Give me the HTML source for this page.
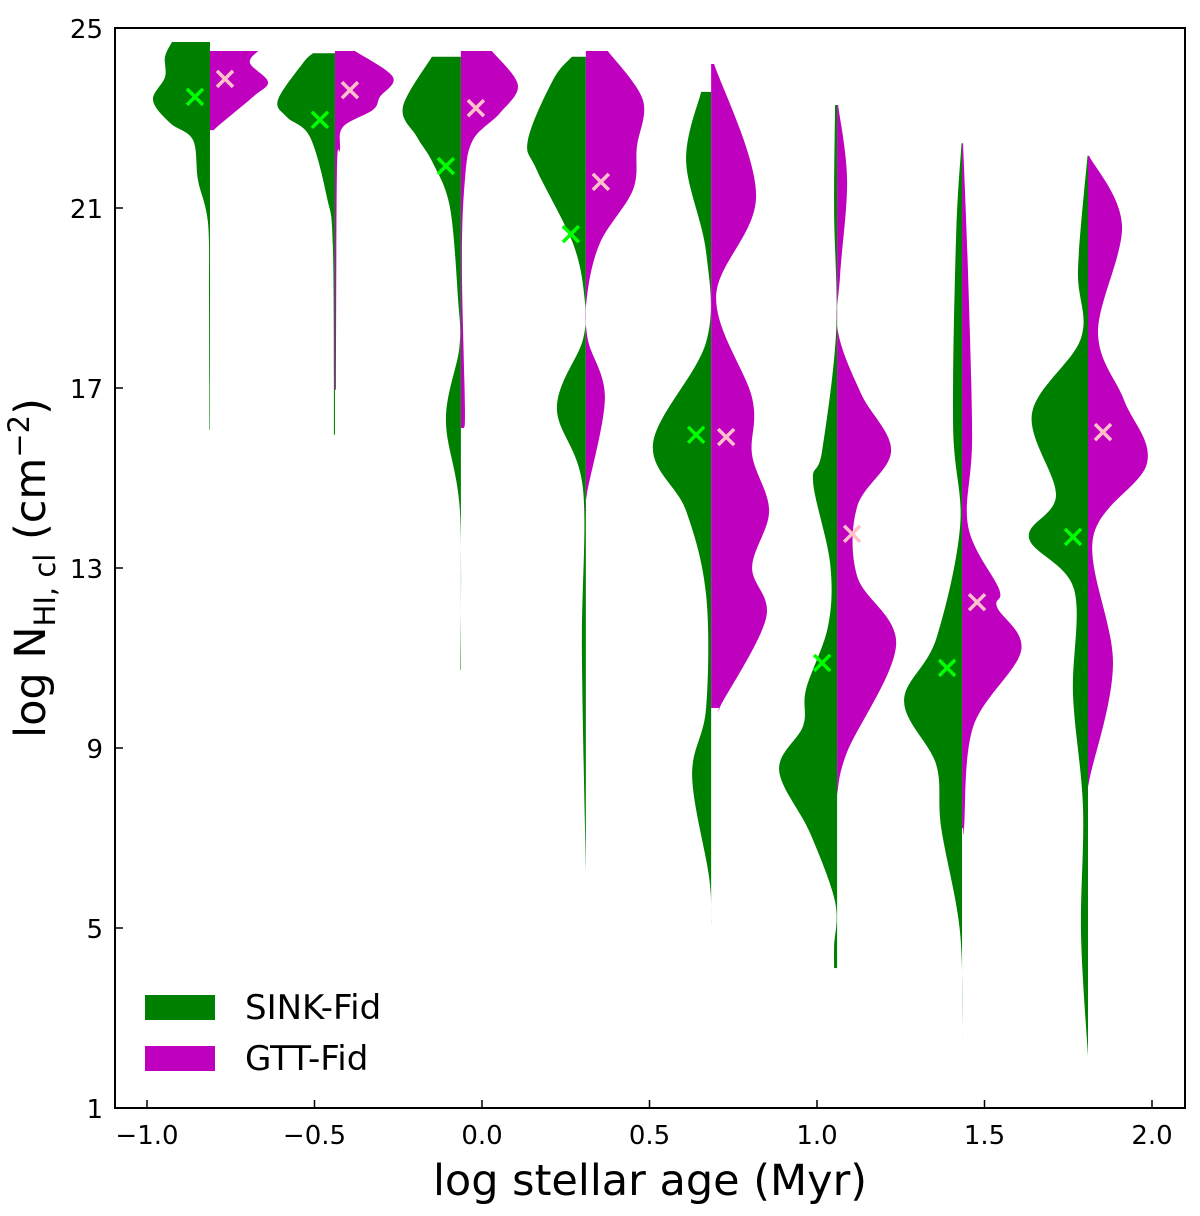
<!DOCTYPE html>
<html><head><meta charset="utf-8"><style>
html,body{margin:0;padding:0;background:#fff}
svg{display:block}
text{font-family:"DejaVu Sans","Liberation Sans",sans-serif;fill:#000}
</style></head><body>
<svg id="chart" width="1200" height="1216" viewBox="0 0 1200 1216">
<g id="marks"></g>
<g id="axes"></g>
</svg>
<script>
const ages = [-0.812, -0.439, -0.063, 0.310, 0.684, 1.060, 1.433, 1.809];
const sinkProfiles = [
 [[24.69,38],[24.36,45],[23.91,45],[23.40,57],[22.89,40],[22.51,17],[21.62,12],[20.67,2],[18.96,1],[16.07,0.5]],
 [[24.44,22],[24.22,32],[23.40,57],[23.02,48],[22.58,25],[21.24,8],[20.13,2],[15.96,1]],
 [[24.36,29],[23.24,58],[22.58,44],[22.00,28],[21.02,11],[19.02,3],[17.91,1.5],[16.29,15],[14.27,1],[10.73,0.5]],
 [[24.36,14],[23.84,33],[22.51,58],[21.84,49],[20.22,13],[19.02,1.5],[18.07,3],[16.56,29],[14.78,3],[11.13,4],[6.24,0]],
 [[23.58,10],[22.04,25],[20.02,5],[18.02,5],[15.78,58],[14.27,25],[12.40,5],[9.89,5],[8.38,19],[6.13,2],[5.07,0]],
 [[23.29,2],[20.91,3],[18.24,1],[15.60,15],[14.91,24],[13.11,7],[11.71,9],[10.31,31],[9.49,34],[8.51,58],[7.11,27],[5.58,2],[4.60,3],[4.11,3]],
 [[22.44,0.5],[20.36,6],[16.16,9],[13.93,2],[11.42,26],[10.04,58],[8.64,26],[7.24,21],[4.89,2],[2.40,0]],
 [[22.16,0.5],[19.64,10],[18.11,7],[16.44,56],[14.62,32],[13.67,59],[12.53,14],[10.18,15],[7.67,5],[4.89,7],[2.16,0]]
];
const gttProfiles = [
 [[24.49,48],[24.22,40],[23.80,58],[23.47,43],[22.80,7],[22.73,5]],
 [[24.49,20],[23.91,58],[23.47,45],[23.18,38],[22.80,8],[22.29,5],[21.78,2],[16.96,1]],
 [[24.49,31],[23.73,57],[23.11,39],[22.51,12],[21.62,4],[19.78,1],[16.58,4],[16.11,3]],
 [[24.49,22],[23.40,57],[22.36,51],[21.40,47],[20.22,14],[19.02,1],[18.07,2],[16.78,19],[14.64,1],[14.27,0.5]],
 [[24.20,3],[21.29,45],[19.02,5],[16.78,41],[15.51,41],[14.27,58],[13.02,41],[11.89,55],[9.96,10],[9.89,9]],
 [[23.29,1],[21.60,10],[19.51,3],[18.24,1],[16.87,24],[15.60,54],[14.36,20],[12.82,20],[11.29,59],[8.91,10],[7.96,0]],
 [[22.44,1],[19.51,6],[15.89,10],[13.93,6],[12.53,37],[12.13,35],[11.16,59],[9.47,11],[7.24,2],[7.22,1]],
 [[22.16,1],[20.62,34],[18.24,10],[16.73,36],[15.33,59],[13.67,5],[10.87,25],[8.36,2],[8.07,0]]
];
const sinkMeans = [23.47, 22.96, 21.93, 20.42, 15.96, 10.89, 10.78, 13.69];
const gttMeans  = [23.87, 23.62, 23.22, 21.58, 15.91, 13.76, 12.24, 16.02];
const xTicks = [-1.0, -0.5, 0.0, 0.5, 1.0, 1.5, 2.0];
const xTickLabels = ["\u22121.0", "\u22120.5", "0.0", "0.5", "1.0", "1.5", "2.0"];
const yTicks = [1, 5, 9, 13, 17, 21, 25];
const yTickLabels = ["1", "5", "9", "13", "17", "21", "25"];

const NS = "http://www.w3.org/2000/svg";
const L = 115, R = 1185, T = 28, B = 1108;
const xs = v => 147 + (v + 1) * 335;
const ys = v => T + (25 - v) * 45;
const marks = document.getElementById('marks');
const axes = document.getElementById('axes');
function mk(tag, attrs, parent) {
  const e = document.createElementNS(NS, tag);
  for (const k in attrs) e.setAttribute(k, attrs[k]);
  parent.appendChild(e);
  return e;
}
function smooth(pts) {
  let d = "";
  for (let i = 0; i < pts.length - 1; i++) {
    const p0 = pts[Math.max(0, i - 1)], p1 = pts[i], p2 = pts[i + 1], p3 = pts[Math.min(pts.length - 1, i + 2)];
    const c1 = [p1[0] + (p2[0] - p0[0]) / 6, p1[1] + (p2[1] - p0[1]) / 6];
    const c2 = [p2[0] - (p3[0] - p1[0]) / 6, p2[1] - (p3[1] - p1[1]) / 6];
    d += ` C${c1[0].toFixed(1)},${c1[1].toFixed(1)} ${c2[0].toFixed(1)},${c2[1].toFixed(1)} ${p2[0].toFixed(1)},${p2[1].toFixed(1)}`;
  }
  return d;
}
function half(cx, prof, sign, color, name) {
  const pts = prof.map(p => [cx + sign * p[1], ys(p[0])]);
  const top = ys(prof[0][0]), bot = ys(prof[prof.length - 1][0]);
  let d = `M${cx},${top} L${pts[0][0]},${pts[0][1]}` + smooth(pts) + ` L${cx},${bot} Z`;
  const p = mk('path', {d: d, fill: color, stroke: 'none'}, marks);
  
  
}
function cross(x, y, color, name) {
  const g = mk('g', {stroke: color, 'stroke-width': 3.5}, marks);
  
  
  const s = 8;
  mk('line', {x1: x - s, y1: y - s, x2: x + s, y2: y + s}, g);
  mk('line', {x1: x - s, y1: y + s, x2: x + s, y2: y - s}, g);
}
ages.forEach((a, i) => {
  const cx = xs(a);
  half(cx, sinkProfiles[i], -1, '#008000', 'sink-violin-' + i);
  half(cx, gttProfiles[i], 1, '#bf00bf', 'gtt-violin-' + i);
});
ages.forEach((a, i) => {
  const cx = xs(a);
  cross(cx - 15, ys(sinkMeans[i]), '#00ff00', 'sink-mean-marker-' + i);
  cross(cx + 15, ys(gttMeans[i]), '#ffc0cb', 'gtt-mean-marker-' + i);
});
const fr = mk('rect', {x: L, y: T, width: R - L, height: B - T, fill: 'none', stroke: '#000', 'stroke-width': 2}, axes);


xTicks.forEach((v, i) => {
  const x = xs(v);
  const t = mk('line', {x1: x, y1: B, x2: x, y2: B - 8, stroke: '#000', 'stroke-width': 1.5}, axes);
  
  
  const lb = mk('text', {x: x, y: 1144, 'text-anchor': 'middle', 'font-size': 26}, axes);
  lb.textContent = xTickLabels[i];
  
  
});
yTicks.forEach((v, i) => {
  const y = ys(v);
  const t = mk('line', {x1: L, y1: y, x2: L + 8, y2: y, stroke: '#000', 'stroke-width': 1.5}, axes);
  
  
  const lb = mk('text', {x: 103, y: y + 10, 'text-anchor': 'end', 'font-size': 26}, axes);
  lb.textContent = yTickLabels[i];
  
  
});
</script>
<svg width="1200" height="1216" style="position:absolute;left:0;top:0">
<text x="650" y="1195" text-anchor="middle" font-size="43">log stellar age (Myr)</text>
<text transform="translate(45,568) rotate(-90)" text-anchor="middle" font-size="43">log N<tspan font-size="29" dy="10">HI, cl</tspan><tspan dy="-10"> (cm</tspan><tspan font-size="29" dy="-16">−2</tspan><tspan dy="16">)</tspan></text>
<g>
<rect x="145" y="995" width="70" height="25" fill="#008000"/>
<text x="245" y="1019" font-size="34">SINK-Fid</text>
<rect x="145" y="1046" width="70" height="25" fill="#bf00bf"/>
<text x="245" y="1070" font-size="34">GTT-Fid</text>
</g>
</svg>
</body></html>
